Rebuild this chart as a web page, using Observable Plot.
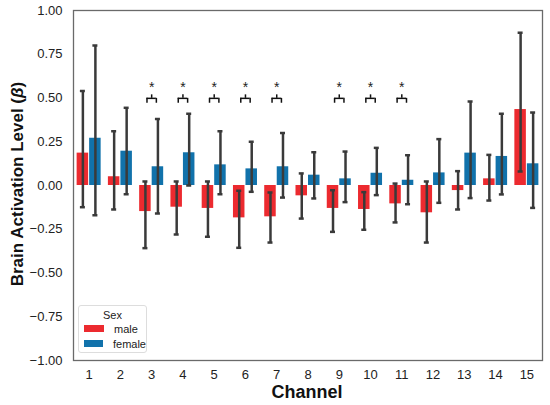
<!DOCTYPE html>
<html>
<head>
<meta charset="utf-8">
<script src="https://cdn.jsdelivr.net/npm/d3@7"></script>
<script src="https://cdn.jsdelivr.net/npm/@observablehq/plot@0.6"></script>
<style>
  html, body { margin: 0; padding: 0; background: #fff; }
  #wrap { position: relative; width: 550px; height: 405px; font-family: "Liberation Sans", Arial, sans-serif; }
  #ylab { position: absolute; left: 18px; top: 184px; transform: translate(-50%, -50%) rotate(-90deg); white-space: nowrap; font-weight: bold; font-size: 17px; color: #111; }
  #xlab { position: absolute; left: 307px; top: 392px; transform: translate(-50%, -50%); font-weight: bold; font-size: 18px; color: #111; }
  #legend { position: absolute; left: 78px; top: 305px; width: 69px; height: 48px; border: 1px solid #ddd; border-radius: 3px; background: rgba(255,255,255,0.85); font-size: 11px; color: #222; box-sizing: border-box; }
  #legend .title { text-align: center; margin-top: 3px; }
  #legend .row { display: flex; align-items: center; height: 15px; }
  #legend .sw { width: 20px; height: 7px; margin-left: 5px; margin-right: 10px; }
</style>
</head>
<body>
<div id="wrap"></div>
<script>
const channels = [1, 2, 3, 4, 5, 6, 7, 8, 9, 10, 11, 12, 13, 14, 15];
const maleMean = [0.185, 0.05, -0.149, -0.124, -0.131, -0.185, -0.179, -0.059, -0.131, -0.137, -0.105, -0.156, -0.029, 0.038, 0.434];
const maleLo = [-0.124, -0.137, -0.358, -0.28, -0.293, -0.356, -0.326, -0.189, -0.265, -0.253, -0.211, -0.326, -0.137, -0.086, 0.08];
const maleHi = [0.54, 0.31, 0.023, 0.023, 0.023, -0.03, -0.04, 0.069, -0.027, -0.038, 0.011, 0.023, 0.082, 0.175, 0.873];
const femaleMean = [0.27, 0.196, 0.107, 0.187, 0.118, 0.095, 0.107, 0.059, 0.038, 0.07, 0.03, 0.072, 0.185, 0.166, 0.124];
const femaleLo = [-0.17, -0.05, -0.16, 0.0, -0.05, -0.036, -0.069, -0.074, -0.095, -0.055, -0.107, -0.099, -0.072, -0.051, -0.128];
const femaleHi = [0.80, 0.444, 0.38, 0.41, 0.31, 0.25, 0.30, 0.19, 0.194, 0.215, 0.173, 0.265, 0.48, 0.41, 0.417];
const sigChannels = [3, 4, 5, 6, 7, 9, 10, 11];
const yTicks = [-1, -0.75, -0.5, -0.25, 0, 0.25, 0.5, 0.75, 1];
const sexes = ["male", "female"];
const colors = ["#ec2a2f", "#1172ab"];
const bracketLevel = 0.498, bracketFoot = 0.47, bracketTop = 0.518, starLevel = 0.56;

const data = channels.flatMap((c, i) => [
  {channel: c, sex: "male", mean: maleMean[i], lo: maleLo[i], hi: maleHi[i]},
  {channel: c, sex: "female", mean: femaleMean[i], lo: femaleLo[i], hi: femaleHi[i]}
]);
const side = d => d.sex === "male" ? -1 : 1;
const center = d => d.channel + side(d) * 0.2;
const ink = "#3a3a3a";

const plot = Plot.plot({
  width: 550, height: 405,
  marginLeft: 73, marginRight: 8, marginTop: 10, marginBottom: 45,
  style: {fontFamily: "Liberation Sans, Arial, sans-serif", fontSize: "13px", color: "#222", background: "#fff"},
  x: {domain: [0.5, 15.5], ticks: channels, tickFormat: d => String(d), tickSize: 0, tickPadding: 9, label: null},
  y: {domain: [-1, 1], ticks: yTicks, tickFormat: d3.format(".2f"), tickSize: 0, tickPadding: 11, label: null},
  color: {domain: sexes, range: colors},
  marks: [
    Plot.rectY(data, {
      x1: d => d.channel + (d.sex === "male" ? -0.4 : 0),
      x2: d => d.channel + (d.sex === "male" ? 0 : 0.4),
      y1: () => 0, y2: "mean", fill: "sex", insetLeft: 0.5, insetRight: 0.5
    }),
    Plot.ruleX(data, {x: center, y1: "lo", y2: "hi", stroke: ink, strokeWidth: 2.5}),
    Plot.ruleY(data, {y: "hi", x1: d => center(d) - 0.08, x2: d => center(d) + 0.08, stroke: ink, strokeWidth: 2.5}),
    Plot.ruleY(data, {y: "lo", x1: d => center(d) - 0.08, x2: d => center(d) + 0.08, stroke: ink, strokeWidth: 2.5}),
    Plot.ruleY(sigChannels, {y: () => bracketLevel, x1: c => c - 0.15, x2: c => c + 0.15, stroke: "#111", strokeWidth: 1.5}),
    Plot.ruleX(sigChannels, {x: c => c - 0.15, y1: () => bracketFoot, y2: () => bracketLevel, stroke: "#111", strokeWidth: 1.5}),
    Plot.ruleX(sigChannels, {x: c => c + 0.15, y1: () => bracketFoot, y2: () => bracketLevel, stroke: "#111", strokeWidth: 1.5}),
    Plot.ruleX(sigChannels, {x: c => c, y1: () => bracketLevel, y2: () => bracketTop, stroke: "#111", strokeWidth: 1.5}),
    Plot.text(sigChannels, {x: c => c, y: () => starLevel, text: () => "*", fontSize: 14, fill: "#222"}),
    Plot.frame({stroke: "#6a6a6a", strokeWidth: 1.3})
  ]
});

const wrap = document.getElementById("wrap");
wrap.appendChild(plot);
const ylab = document.createElement("div");
ylab.id = "ylab";
ylab.innerHTML = "Brain Activation Level (<i>β</i>)";
wrap.appendChild(ylab);
const xlab = document.createElement("div");
xlab.id = "xlab";
xlab.textContent = "Channel";
wrap.appendChild(xlab);
const legend = document.createElement("div");
legend.id = "legend";
legend.innerHTML = '<div class="title">Sex</div>' + sexes.map((s, i) =>
  `<div class="row"><span class="sw" style="background:${colors[i]}"></span><span>${s}</span></div>`).join("");
wrap.appendChild(legend);
</script>
</body>
</html>
